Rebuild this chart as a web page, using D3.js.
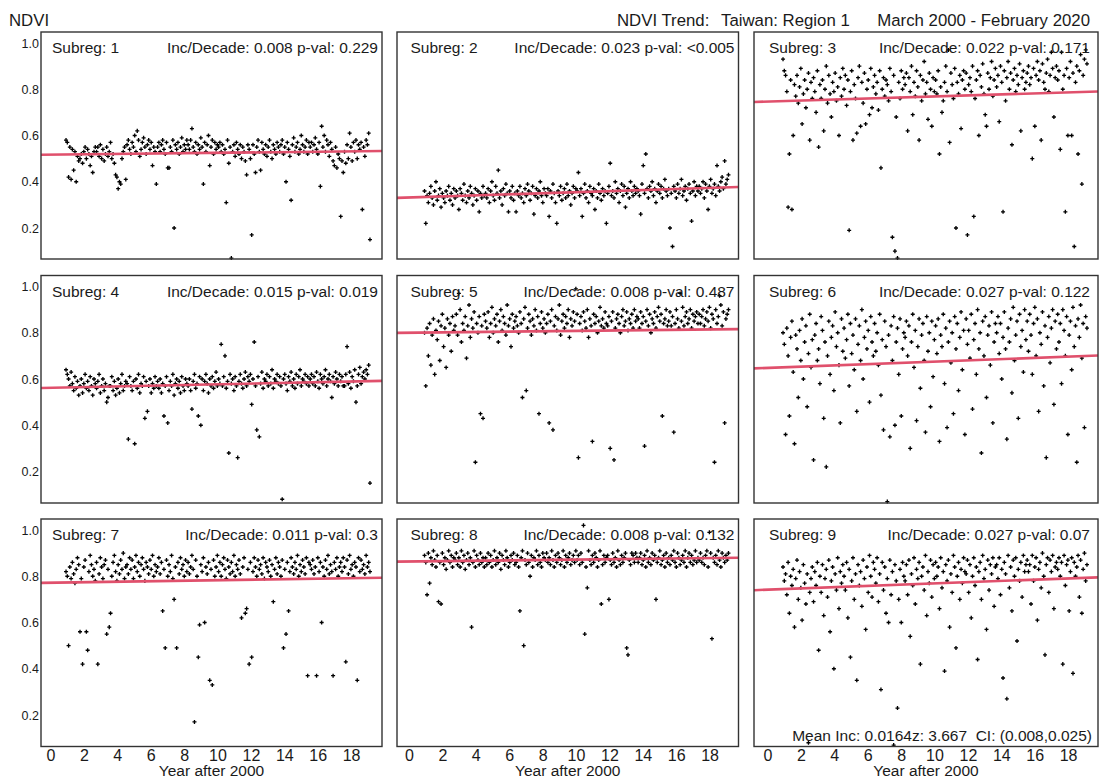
<!DOCTYPE html>
<html><head><meta charset="utf-8">
<script src="https://cdn.jsdelivr.net/npm/d3@7"></script>
<style>
body{margin:0;background:#fff}
text{font-family:"Liberation Sans",Arial,sans-serif;fill:#1a1a1a}
</style>
</head><body>
<svg id="chart" width="1100" height="778"></svg>
<script>
// ---------------- data ----------------
const subregions = [1,2,3,4,5,6,7,8,9];
const incPerDecade = [0.008,0.023,0.022,0.015,0.008,0.027,0.011,0.008,0.027];
const pValues = ["0.229","<0.005","0.171","0.019","0.487","0.122","0.3","0.132","0.07"];
const trendAtYear0 = [0.517,0.332,0.747,0.562,0.800,0.648,0.772,0.864,0.742];
const yTicks = [0.2,0.4,0.6,0.8,1.0];
const xTicks = [0,2,4,6,8,10,12,14,16,18];
const firstMonthX = 0.9, lastMonthX = 19.1;   // plotted x of first / last monthly value
const meanInc = "0.0164", zScore = "3.667", ciText = "(0.008,0.025)";

// monthly NDVI (x100), March 2000 - February 2020
const ndvi1 = [58,57,42,55,41,54,45,53,40,51,49,50,52,48,53,55,50,54,52,47,51,44,53,55,
53,55,51,56,50,54,49,52,55,51,53,57,50,52,48,43,42,37,40,39,50,53,55,41,
56,58,54,52,57,55,60,53,62,58,51,54,57,59,55,52,56,58,54,57,47,55,53,39,
55,57,53,56,58,54,52,57,46,46,55,53,58,20,56,54,57,52,55,59,53,56,54,58,
56,54,58,63,55,53,57,52,56,54,59,55,39,57,53,56,60,47,55,58,52,57,54,56,
55,57,53,56,52,54,31,58,48,55,7,53,56,51,57,54,52,56,50,55,53,49,43,56,
54,50,17,56,52,44,55,58,53,45,57,54,52,56,51,55,58,53,50,56,54,52,57,55,
53,56,58,52,55,40,57,54,51,32,56,59,53,55,57,52,54,60,56,53,55,58,52,57,
55,57,53,56,59,54,52,57,38,64,55,60,53,58,56,51,57,54,49,47,55,46,52,50,
25,49,44,53,48,56,50,61,55,49,57,53,58,50,56,54,57,28,55,51,58,56,61,15];
const ndvi2 = [36,22,34,31,35,38,33,30,36,40,32,34,37,29,35,33,31,36,34,38,32,35,30,37,
33,36,34,28,37,35,32,39,34,31,36,33,38,35,30,34,37,32,36,27,35,33,38,34,
35,33,37,31,36,40,34,32,38,35,45,33,36,30,37,34,39,35,27,36,33,38,32,35,
27,36,34,38,33,35,31,37,34,39,36,32,35,38,26,34,37,33,36,40,34,31,37,35,
34,37,25,36,33,39,35,31,22,36,34,38,32,35,37,33,39,34,36,30,35,38,33,37,
36,44,34,37,25,35,39,33,36,31,38,35,34,37,28,36,33,39,35,32,37,34,36,22,
35,38,48,34,36,33,40,35,37,31,36,39,34,38,29,35,37,33,40,36,34,38,35,37,
36,34,26,39,47,35,52,37,33,38,36,40,34,37,31,36,39,35,38,33,37,41,36,34,
37,20,35,12,38,36,33,39,35,37,41,34,36,38,32,37,39,35,23,36,40,34,38,36,
38,35,37,40,33,39,36,28,38,41,35,37,39,34,47,38,36,40,42,37,49,39,41,43];
const ndvi3 = [93,88,86,79,29,52,84,28,60,82,77,86,74,81,89,65,78,84,72,80,87,58,83,76,
85,79,70,88,55,82,76,84,62,80,90,74,86,78,68,83,79,87,75,81,60,85,77,89,
80,86,73,84,19,79,88,58,82,76,61,85,90,64,83,74,87,65,80,84,69,89,72,81,
86,78,83,71,88,46,80,85,77,84,82,75,89,79,16,86,10,68,7,83,76,88,80,85,
82,87,62,85,79,90,69,83,77,88,81,58,86,75,84,92,78,83,67,87,80,64,85,79,
84,78,88,52,81,70,75,83,90,79,97,57,87,82,76,89,20,83,78,86,63,84,88,80,
87,17,82,85,79,90,25,76,84,88,60,86,81,91,78,69,64,87,80,85,92,77,84,89,
81,86,66,90,83,27,88,75,85,92,80,87,56,84,89,79,86,82,91,62,85,88,80,83,
87,90,82,85,50,89,64,86,92,84,88,58,91,83,80,87,93,79,86,96,89,68,85,90,
84,88,54,96,80,86,27,89,60,85,92,60,87,12,83,90,52,88,95,39,86,93,97,91];
const ndvi4 = [64,62,60,57,63,58,55,61,56,59,53,57,60,54,58,62,56,59,55,61,57,53,60,58,
56,59,62,54,57,60,55,58,50,52,57,57,61,55,59,53,56,60,54,58,62,55,57,59,
58,34,61,57,55,59,32,60,56,62,54,58,57,61,43,59,46,57,60,54,58,56,61,57,
59,56,60,54,58,44,57,61,41,55,59,57,62,53,58,60,56,59,54,61,57,55,60,58,
57,60,55,47,59,62,56,58,44,61,40,60,55,59,62,58,54,60,57,61,56,59,63,57,
60,58,75,57,61,70,56,59,28,62,58,60,55,61,57,26,59,62,58,56,60,63,57,61,
59,62,49,60,76,57,38,61,35,58,63,56,60,59,62,57,61,58,64,56,60,59,62,58,
61,57,8,60,62,58,55,61,59,63,57,60,56,62,58,61,64,57,60,59,62,58,61,57,
60,62,58,61,57,63,59,56,62,60,58,61,64,57,60,62,59,52,61,58,63,60,57,62,
59,61,57,57,62,74,58,63,56,61,59,64,50,57,62,65,58,61,63,60,64,62,66,15];
const ndvi5 = [80,57,82,70,84,66,79,86,62,81,77,85,68,83,88,74,82,65,86,79,84,72,87,81,
83,88,79,97,90,76,84,81,87,69,83,92,78,86,82,89,24,84,80,87,45,83,43,88,
85,82,89,78,84,91,80,86,83,88,76,85,90,81,87,84,79,92,83,86,74,88,82,85,
87,83,80,89,84,52,86,91,55,82,88,85,79,86,83,90,81,87,45,84,89,82,86,80,
84,88,41,85,90,38,83,87,81,86,92,79,85,88,82,87,84,90,78,86,83,89,85,99,
88,26,84,87,81,89,85,82,90,78,86,83,33,88,84,87,80,85,91,83,86,82,89,84,
83,87,30,85,89,25,82,86,88,84,80,87,90,83,85,89,81,86,84,88,82,90,85,87,
86,82,89,84,87,31,85,90,83,88,80,86,84,89,82,87,91,85,88,44,84,86,90,83,
85,89,83,87,37,84,90,86,82,97,85,91,83,87,89,84,86,90,82,88,85,87,89,84,
88,84,87,90,83,86,89,85,91,82,88,86,24,90,84,87,96,92,83,89,41,86,88,90];
const ndvi6 = [80,75,36,82,70,44,78,85,63,32,79,73,52,81,68,86,60,76,83,48,71,88,65,77,
25,79,84,68,73,58,87,81,43,76,22,70,85,62,78,83,55,89,74,80,66,41,86,72,
82,69,77,88,57,84,71,79,64,86,46,75,83,68,90,60,78,85,73,81,50,87,76,70,
84,72,80,66,88,53,77,38,85,74,7,79,35,83,68,87,40,76,82,62,86,44,73,80,
78,85,70,83,30,76,88,65,81,42,74,86,56,79,84,68,37,87,72,80,48,85,61,77,
83,71,86,33,79,74,88,58,82,39,76,85,67,80,45,87,73,84,55,78,89,64,81,36,
86,75,81,69,88,47,77,84,62,90,73,80,28,85,70,87,52,79,83,66,89,41,76,84,
80,87,71,84,60,78,89,73,34,82,76,86,54,91,68,79,85,43,88,74,81,63,90,77,
85,72,88,79,62,84,91,70,86,46,80,75,89,57,83,26,78,87,67,82,90,49,85,73,
88,76,84,58,90,81,70,87,36,79,85,64,91,74,83,24,86,78,92,69,84,39,87,82];
const ndvi7 = [82,80,50,84,79,86,81,77,83,88,85,56,79,42,84,87,56,48,82,89,85,80,83,78,
86,42,81,88,84,79,85,87,55,83,58,64,80,86,89,82,78,85,81,87,83,90,79,84,
85,81,88,83,87,79,84,89,82,86,80,85,88,83,78,86,84,81,87,83,89,80,85,82,
84,88,81,86,65,83,49,87,80,85,82,89,79,70,84,49,86,81,88,83,85,80,87,82,
86,81,84,89,83,17,87,80,45,59,85,82,88,60,84,81,86,35,83,33,87,80,84,89,
82,86,80,85,88,83,79,87,84,81,86,82,89,80,85,83,87,81,62,84,88,64,66,83,
42,86,45,82,88,84,80,87,83,85,81,88,79,86,84,82,87,80,85,69,83,88,81,86,
84,80,87,49,83,55,86,65,82,88,84,81,86,83,89,80,85,82,87,84,81,88,37,86,
85,83,87,81,84,37,88,82,86,60,84,80,87,83,89,81,85,82,37,86,83,88,80,84,
86,82,88,84,43,87,81,89,83,85,80,86,84,35,88,82,87,83,85,81,89,84,86,82];
const ndvi8 = [89,86,72,90,77,88,85,91,87,84,89,69,86,68,90,85,88,83,87,91,86,89,84,88,
87,90,85,88,84,91,86,89,83,87,90,85,88,58,86,91,84,89,87,85,90,86,88,84,
88,85,90,86,89,84,87,91,85,88,86,90,83,89,87,85,91,88,84,86,89,87,90,85,
86,89,84,65,88,91,50,87,85,90,86,80,89,84,88,87,91,85,89,86,84,90,88,87,
90,86,88,85,91,87,84,89,86,90,88,85,87,91,84,89,86,88,90,85,87,89,86,91,
87,89,85,90,86,102,55,84,75,91,87,85,89,86,90,88,84,87,91,68,85,89,86,88,
89,70,87,85,90,86,88,84,91,87,85,89,86,88,90,49,46,87,85,90,89,86,90,88,
86,88,90,85,87,89,84,91,86,88,85,90,87,89,70,86,88,91,85,87,89,84,90,86,
88,85,89,87,91,86,84,90,88,85,87,89,86,91,84,88,90,86,89,85,87,91,86,88,
87,90,86,88,85,89,91,84,99,90,53,88,86,89,85,91,87,84,90,88,86,89,87,90];
const ndvi9 = [84,78,81,72,86,64,80,76,83,58,79,87,70,82,75,61,85,77,68,81,8,73,79,84,
69,82,76,86,48,80,73,85,63,79,83,71,87,56,78,84,40,81,74,88,66,82,77,85,
80,74,86,62,83,45,78,88,70,81,35,85,76,82,67,87,79,57,84,73,89,80,71,86,
83,77,88,69,81,31,86,74,84,64,79,60,87,72,82,7,85,78,23,70,83,60,86,80,
78,85,72,87,54,81,76,88,68,83,79,86,42,80,84,74,89,63,82,77,87,71,85,79,
86,80,84,66,88,75,82,39,85,78,87,58,81,73,89,84,49,80,86,70,83,77,88,82,
81,87,73,85,62,80,88,76,84,44,82,86,70,89,79,83,57,87,74,85,81,88,67,84,
85,79,88,72,83,36,86,81,27,89,75,84,65,87,80,88,52,83,78,86,71,89,82,85,
87,82,85,68,89,78,84,88,61,83,86,75,90,80,46,85,88,73,87,82,89,66,84,86,
83,88,80,86,42,89,76,85,87,65,82,88,38,86,80,84,89,71,87,64,83,90,78,85];
const series = [ndvi1,ndvi2,ndvi3,ndvi4,ndvi5,ndvi6,ndvi7,ndvi8,ndvi9];

// ---------------- layout ----------------
const colLeft  = [41, 397, 754];
const colRight = [382, 738.5, 1098];
const colZero  = [51, 409.5, 768];   // pixel of year 0
const colIncEnd = [378, 734.5, 1090];
const pxPerYear = 16.7;
const rowTop = [32, 275.5, 519];
const rowBottom = [259, 503, 746.5];
const pxPerUnit = 231.25;

const svg = d3.select("#chart");

svg.append("text").attr("x", 9).attr("y", 26).style("font-size","16.8px").text("NDVI");
svg.append("text").attr("x", 617).attr("y", 26).style("font-size","16.8px").text("NDVI Trend:");
svg.append("text").attr("x", 721).attr("y", 26).style("font-size","16.8px").text("Taiwan: Region 1");
svg.append("text").attr("x", 1090).attr("y", 26).attr("text-anchor","end").style("font-size","16.8px").text("March 2000 - February 2020");

series.forEach((vals, k) => {
  const c = k % 3, r = Math.floor(k / 3);
  const x = d3.scaleLinear().domain([0, 18]).range([colZero[c], colZero[c] + 18 * pxPerYear]);
  const yTop = rowTop[r] + 11;
  const y = d3.scaleLinear().domain([0.2, 1.0]).range([yTop + 0.8 * pxPerUnit, yTop]);
  const monthX = d3.scaleLinear().domain([0, vals.length - 1]).range([firstMonthX, lastMonthX]);
  const g = svg.append("g");

  const clipId = "clip" + k;
  svg.append("clipPath").attr("id", clipId).append("rect")
    .attr("x", colLeft[c]).attr("y", rowTop[r])
    .attr("width", colRight[c] - colLeft[c]).attr("height", rowBottom[r] - rowTop[r]);
  const x0 = x.invert(colLeft[c]), x1 = x.invert(colRight[c]);
  const trend = t => trendAtYear0[k] + incPerDecade[k] * t / 10;

  g.selectAll("path.pt").data(vals).join("path")
    .attr("class","pt")
    .attr("d", d3.symbol(d3.symbolCross, 9))
    .attr("transform", (v, i) => `translate(${x(monthX(i))},${y(v / 100)})`)
    .attr("fill", "#000");

  g.append("line")
    .attr("clip-path", `url(#${clipId})`)
    .attr("x1", x(x0)).attr("x2", x(x1))
    .attr("y1", y(trend(x0))).attr("y2", y(trend(x1)))
    .attr("stroke", "#e0506c").attr("stroke-width", 2.6);

  g.append("rect")
    .attr("x", colLeft[c]).attr("y", rowTop[r])
    .attr("width", colRight[c] - colLeft[c]).attr("height", rowBottom[r] - rowTop[r])
    .attr("fill", "none").attr("stroke", "#333").attr("stroke-width", 1.4);

  g.append("text").attr("x", colZero[c] + 1).attr("y", rowTop[r] + 21)
    .style("font-size","15.5px").text("Subreg: " + subregions[k]);
  g.append("text").attr("x", colIncEnd[c]).attr("y", rowTop[r] + 21).attr("text-anchor","end")
    .style("font-size","15.5px")
    .text(`Inc/Decade: ${incPerDecade[k].toFixed(3)} p-val: ${pValues[k]}`);

  if (c === 0) {
    g.selectAll("text.yt").data(yTicks).join("text").attr("class","yt")
      .attr("x", 39).attr("y", v => y(v) + 4.5).attr("text-anchor","end")
      .style("font-size","12.5px").text(v => v.toFixed(1));
  }
  if (r === 2) {
    g.selectAll("text.xt").data(xTicks).join("text").attr("class","xt")
      .attr("x", v => x(v)).attr("y", 761).attr("text-anchor","middle")
      .style("font-size","16px").text(v => v);
    g.append("text").attr("x", (colLeft[c] + colRight[c]) / 2).attr("y", 776)
      .attr("text-anchor","middle").style("font-size","15.5px").text("Year after 2000");
  }
  if (k === 8) {
    g.append("text").attr("x", 1092).attr("y", 741).attr("text-anchor","end")
      .style("font-size","15.5px").style("white-space","pre")
      .text(`Mean Inc: ${meanInc}z: ${zScore}  CI: ${ciText}`);
  }
});
</script>
</body></html>
